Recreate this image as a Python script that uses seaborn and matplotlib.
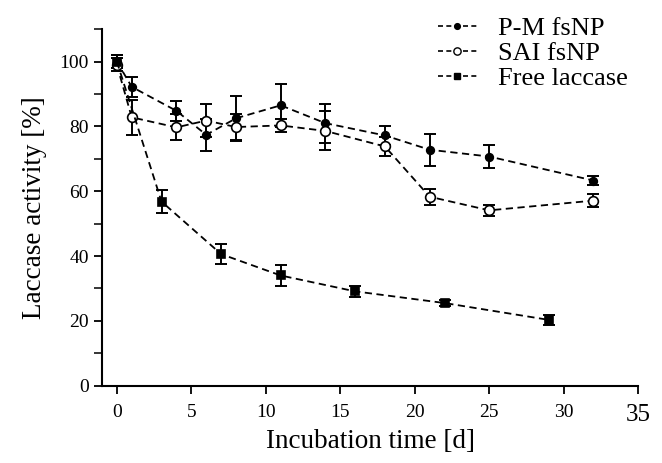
import seaborn as sns
import matplotlib.pyplot as plt
import pandas as pd
from matplotlib.ticker import MultipleLocator
from matplotlib.lines import Line2D

sns.set_style("ticks")
plt.rcParams['font.family'] = ['Liberation Serif', 'DejaVu Serif']
plt.rcParams['text.color'] = 'black'
plt.rcParams['axes.labelcolor'] = 'black'

# ----------- Data -----------
pm_days = [0, 1, 4, 6, 8, 11, 14, 18, 21, 25, 32]
pm_act = [100, 92.2, 84.8, 77.4, 82.5, 86.5, 81, 77.2, 72.8, 70.7, 63.3]
pm_err = [2, 3, 3, 5, 7, 6.7, 6, 3, 5, 3.6, 1.5]

sai_days = [0, 1, 4, 6, 8, 11, 14, 18, 21, 25, 32]
sai_act = [99, 82.8, 79.7, 81.8, 79.8, 80.3, 78.6, 73.8, 58.3, 54.1, 57.1]
sai_err = [2, 5.3, 4, 5, 4, 2, 6, 3, 2.5, 1.8, 2]

free_days = [0, 3, 7, 11, 16, 22, 29]
free_act = [100, 56.8, 40.6, 34, 29.1, 25.5, 20.3]
free_err = [2, 3.5, 3, 3.3, 1.8, 1, 1.5]

labels = ["P-M fsNP", "SAI fsNP", "Free laccase"]

df = pd.concat([
    pd.DataFrame({"day": pm_days, "act": pm_act, "err": pm_err, "series": labels[0]}),
    pd.DataFrame({"day": sai_days, "act": sai_act, "err": sai_err, "series": labels[1]}),
    pd.DataFrame({"day": free_days, "act": free_act, "err": free_err, "series": labels[2]}),
])

styles = {
    labels[0]: dict(marker="o", ms=5.5, mfc="black"),
    labels[1]: dict(marker="o", ms=7, mfc="white"),
    labels[2]: dict(marker="s", ms=6, mfc="black"),
}

fig = plt.figure(figsize=(6.62, 4.63), dpi=100)
ax = fig.add_axes([0.154, 0.167, 0.81, 0.77])

for name in labels:
    sub = df[df["series"] == name]
    st = styles[name]
    ax.errorbar(sub["day"], sub["act"], yerr=sub["err"], fmt="none",
                ecolor="black", elinewidth=1.4, capsize=4, capthick=1.4, zorder=2)
    sns.lineplot(data=sub, x="day", y="act", ax=ax, color="black",
                 linestyle=(0, (4, 2.5)), linewidth=1.3, marker=st["marker"],
                 markersize=st["ms"], markerfacecolor=st["mfc"],
                 markeredgecolor="black", markeredgewidth=1.2, zorder=3)

ax.set_xlim(-1, 35)
ax.set_ylim(0, 110)
ax.set_xticks(range(0, 36, 5))
ax.set_yticks(range(0, 101, 20))
ax.yaxis.set_minor_locator(MultipleLocator(10))
ax.tick_params(axis="both", which="major", direction="out", length=6, width=1.3,
               labelsize=14, colors="black")
ax.tick_params(axis="y", which="minor", direction="out", length=6, width=1.3)
ax.tick_params(axis="x", pad=7)
for s in ["top", "right"]:
    ax.spines[s].set_visible(False)
for s in ["left", "bottom"]:
    ax.spines[s].set_linewidth(1.5)
    ax.spines[s].set_color("black")

# the last x tick label is printed larger in the original
ax.get_xticklabels()[-1].set_fontsize(18)

ax.set_xlabel("Incubation time [d]", fontsize=19.5, labelpad=2)
ax.set_ylabel("Laccase activity [%]", fontsize=19.5, labelpad=9)

handles = [Line2D([], [], color="black", linestyle=(0, (3, 2)), linewidth=1.2,
                  marker=styles[n]["marker"], markersize=styles[n]["ms"] * 0.75,
                  markerfacecolor=styles[n]["mfc"], markeredgecolor="black")
           for n in labels]
fig.legend(handles, labels, loc="upper left", bbox_to_anchor=(0.625, 1.015),
           frameon=False, fontsize=19, handlelength=1.5, handletextpad=0.8,
           labelspacing=0.05, markerfirst=True)

fig.savefig("out.png", dpi=100)
